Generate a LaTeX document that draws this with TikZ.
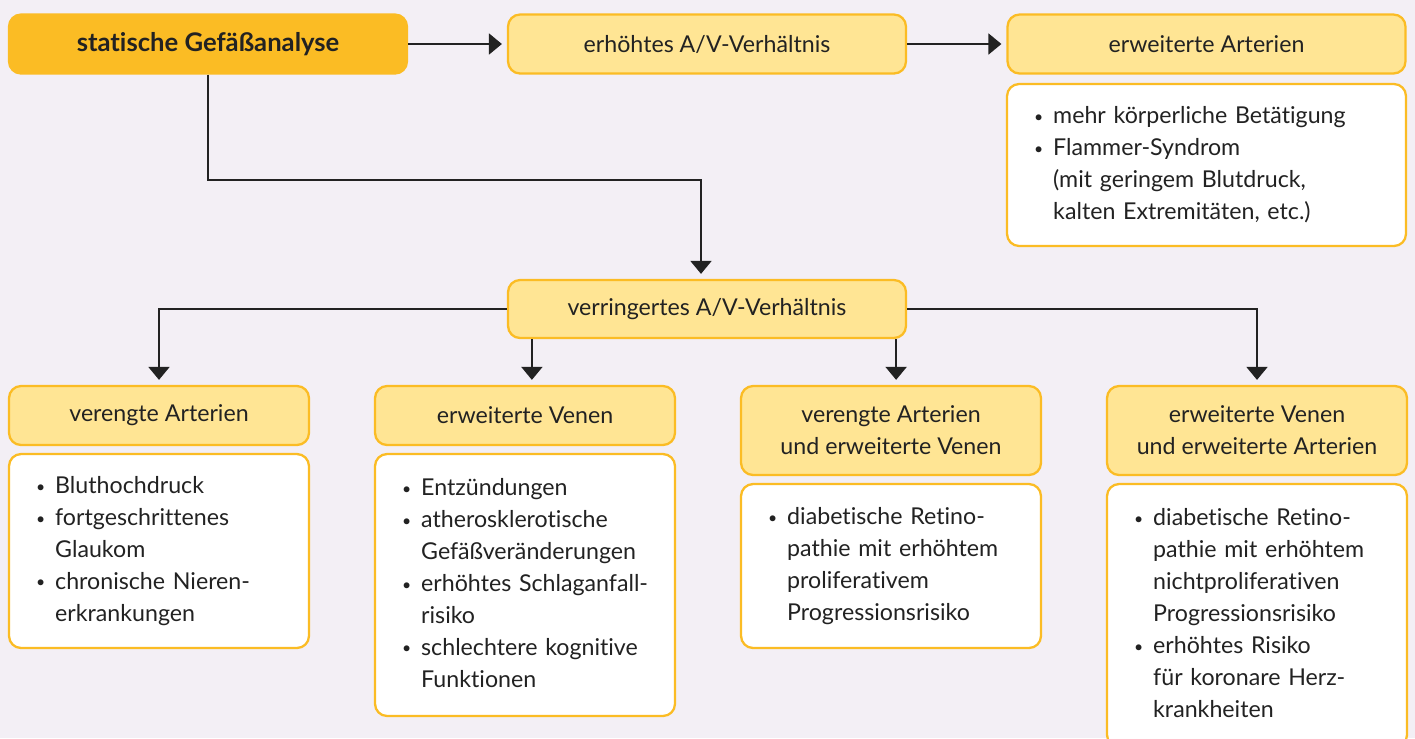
\documentclass[tikz,border=0pt]{standalone}
\usepackage{fontspec}
\setmainfont{Lato}[Ligatures=NoCommon]
\usetikzlibrary{arrows.meta,calc}
\definecolor{BgClr}{RGB}{243,239,245}
\definecolor{BoxClr}{RGB}{255,229,148}
\definecolor{LineClr}{RGB}{251,188,36}
\definecolor{TxtClr}{RGB}{34,34,34}
\newcommand{\bul}{\raisebox{0.12ex}{\small\textbullet}}
\newcommand{\blist}[1]{\begin{tabular}{@{}l@{\hspace{0.2cm}}l@{}}#1\end{tabular}}

\begin{document}
\begin{tikzpicture}[x=0.02cm,y=-0.02cm,
  every node/.style={font=\fontsize{13.2}{18.2}\selectfont,text=TxtClr},
  head/.style={draw=LineClr,line width=1.3pt,fill=BoxClr,rounded corners=0.24cm,
    minimum width=6cm,minimum height=1.18cm,align=center,inner sep=0pt},
  wide/.style={head,minimum width=7.96cm},
  listbox/.style={draw=LineClr,line width=1.3pt,fill=white,rounded corners=0.24cm,
    inner xsep=0.54cm,inner ysep=0pt,text width=4.92cm,align=left},
  arr/.style={draw=TxtClr,line width=1.1pt,-{Triangle[width=0.42cm,length=0.26cm]},shorten >=0.1cm}]
\clip (0,0) rectangle (1415,738);
\fill[BgClr] (0,0) rectangle (1415,738);

\node[wide,fill=LineClr,font=\fontsize{14.6}{18.2}\selectfont\bfseries] (s) at (208,44) {statische Gefäßanalyse};
\node[wide] (e1) at (707,44) {erhöhtes A/V-Verhältnis};
\node[wide] (e2) at (1206.5,44) {erweiterte Arterien};
\node[listbox,text width=6.9cm,minimum height=3.24cm] (l0) at (1206.5,165) {\blist{%
\bul & mehr körperliche Betätigung\\
\bul & Flammer-Syndrom\\
 & (mit geringem Blutdruck,\\
 & kalten Extremitäten, etc.)}};

\node[wide,minimum height=1.16cm] (v) at (707,309) {verringertes A/V-Verhältnis};
\coordinate (knee) at (701,180);

\node[head] (h1) at (159,415.5) {verengte Arterien};
\node[head] (h2) at (525,415.5) {erweiterte Venen};
\node[head,minimum height=1.78cm] (h3) at (891,430.5) {verengte Arterien\\und erweiterte Venen};
\node[head,minimum height=1.78cm] (h4) at (1257,430.5) {erweiterte Venen\\und erweiterte Arterien};

\node[listbox,minimum height=3.88cm] (l1) at (159,551) {\blist{%
\bul & Bluthochdruck\\
\bul & fortgeschrittenes\\
 & Glaukom\\
\bul & chronische Nieren-\\
 & erkrankungen}};
\node[listbox,minimum height=5.24cm] (l2) at (525,585) {\blist{%
\bul & Entzündungen\\
\bul & atherosklerotische\\
 & Gefäßveränderungen\\
\bul & erhöhtes Schlaganfall-\\
 & risiko\\
\bul & schlechtere kognitive\\
 & Funktionen}};
\node[listbox,minimum height=3.28cm] (l3) at (891,566) {\blist{%
\bul & diabetische Retino-\\
 & pathie mit erhöhtem\\
 & proliferativem\\
 & Progressionsrisiko}};
\node[listbox,minimum height=5.26cm] (l4) at (1257,615.5) {\blist{%
\bul & diabetische Retino-\\
 & pathie mit erhöhtem\\
 & nichtproliferativen\\
 & Progressionsrisiko\\
\bul & erhöhtes Risiko\\
 & für koronare Herz-\\
 & krankheiten}};

\draw[arr] (s) -- (e1);
\draw[arr] (e1) -- (e2);
\draw[arr] (s.south) |- (knee) -- (knee |- v.north);
\draw[arr] (v.west) -| (h1.north);
\draw[arr] (v.east) -| (h4.north);
\draw[arr] ([xshift=0.5cm]v.south west) -- ([xshift=0.5cm]v.south west |- h2.north);
\draw[arr] ([xshift=-0.22cm]v.south east) -- ([xshift=-0.22cm]v.south east |- h3.north);
\end{tikzpicture}
\end{document}
